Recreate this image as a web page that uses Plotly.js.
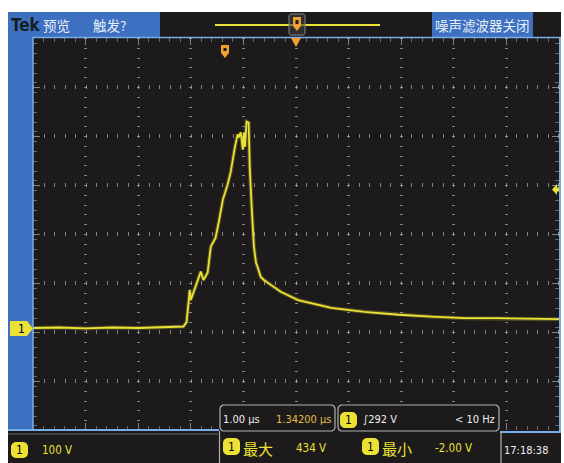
<!DOCTYPE html>
<html><head><meta charset="utf-8">
<script src="https://cdn.plot.ly/plotly-3.0.1.min.js"></script>
<style>html,body{margin:0;padding:0;background:#fff}#chart{width:564px;height:463px}</style>
</head><body><div id="chart"></div>
<script>
// ---- data ----
const timeUs = [0, 0.5, 1.0, 1.5, 2.0, 2.5, 2.86, 2.92, 2.98, 3.00, 3.09, 3.19, 3.24, 3.32, 3.38, 3.47, 3.53, 3.61, 3.70, 3.76, 3.84, 3.89, 3.91, 3.95, 3.99, 4.01, 4.03, 4.06, 4.10, 4.12, 4.16, 4.20, 4.24, 4.27, 4.33, 4.39, 4.52, 4.71, 5.04, 5.67, 6.30, 6.95, 7.58, 8.21, 8.85, 10.0];
const voltsV = [0, 1, -1, 1, 0, 1, 3, 12, 78, 57, 84, 115, 98, 113, 166, 184, 215, 262, 293, 319, 370, 395, 389, 399, 364, 399, 370, 421, 419, 329, 241, 166, 133, 125, 104, 98, 88, 74, 57, 41, 33, 27, 23, 20, 20, 18];
const headerLeft = ["预览", "触发?"];
const headerRight = "噪声滤波器关闭";
const scaleTexts = ["100 V", "1.00 µs", "1.34200 µs", "∫292 V", "< 10 Hz"];
const measLabels = ["最大", "最小"];
const measValues = ["434 V", "-2.00 V"];
const clockText = "17:18:38";

// ---- layout geometry ----
const L=33, R=559, T=38, B=430;
const fx = x => (x-L)/(R-L);
const fy = y => (B-y)/(B-T);
const BLUE='#3d70c0', LBLUE='#78aee8', DARK='#1c1a1a', YEL='#ece236', GOLD='#e6bd45', ORANGE='#f0a030';
const NARROW='"DejaVu Sans Condensed", "Liberation Sans Narrow", Arial, sans-serif';
const CJK='"Noto Sans CJK SC", sans-serif';

const shapes=[];
function rect(x0,y0,x1,y1,fill,line,layer){shapes.push({type:'rect',xref:'paper',yref:'paper',x0:fx(x0),x1:fx(x1),y0:fy(y1),y1:fy(y0),fillcolor:fill,line:line||{width:0},layer:layer||'above'});}
function seg(x0,y0,x1,y1,color,w){shapes.push({type:'line',xref:'paper',yref:'paper',x0:fx(x0),x1:fx(x1),y0:fy(y0),y1:fy(y1),line:{color:color,width:w||1},layer:'above'});}
function path(pts,fill,line){let d=pts.map((p,i)=>(i?'L':'M')+fx(p[0]).toFixed(5)+','+fy(p[1]).toFixed(5)).join(' ')+' Z';shapes.push({type:'path',xref:'paper',yref:'paper',path:d,fillcolor:fill,line:line||{width:0},layer:'above'});}
function rrect(x0,y0,x1,y1,r,fill,line){const pts=[];const n=5;
  const corners=[[x1-r,y0+r,-90],[x1-r,y1-r,0],[x0+r,y1-r,90],[x0+r,y0+r,180]];
  corners.forEach(c=>{for(let i=0;i<=n;i++){const a=(c[2]+90*i/n)*Math.PI/180;pts.push([c[0]+r*Math.cos(a),c[1]+r*Math.sin(a)]);}});
  path(pts,fill,line);}

// outer dark frame
rect(8,12,561,463,DARK,null,'below');
// header
rect(8,12,160,37,BLUE);
rect(432,12,533,37,BLUE);
seg(33,37.5,561,37.5,LBLUE,1.5);
// left strip
rect(8,37,33,430,BLUE);
seg(33,37,33,430,LBLUE,1.5);
// header timeline
seg(215,25,380,25,YEL,2);
rrect(289,14,305,35,2,'rgba(60,60,60,0.6)',{color:'#888',width:1});
path([[293,17],[301,17],[301,26],[297,31],[293,26]],ORANGE);
rect(295.5,20,298.5,24,DARK);
path([[291,38],[301,38],[296,47]],ORANGE);
// trigger position marker
path([[221,45],[229,45],[229,53],[225,58],[221,53]],ORANGE);
rect(223.5,48,226.5,51,DARK);
// ground marker
path([[10,321],[27,321],[33,328.5],[27,336],[10,336]],YEL);
// trigger level arrow
path([[552,189.5],[557,184],[557,187.5],[560,187.5],[560,191.5],[557,191.5],[557,195]],YEL);
// bottom frame
seg(8,430,219,430,LBLUE,2);
seg(8,434,218,434,'#6a6a6a',1);
seg(500,432,561,432,LBLUE,2);
seg(560,37,560,432,LBLUE,2);
rrect(220,405,335,431,4,DARK,{color:'#b0b0b0',width:1.2});
rrect(338,405,499,431,4,DARK,{color:'#b0b0b0',width:1.2});
seg(219.5,431,219.5,463,'#b0b0b0',1.2);
seg(501,432,501,463,'#b0b0b0',1.2);
// badges
rrect(11,442,28,458,5,YEL);
rrect(340,412,357,428,5,YEL);
rrect(223,438,240,455,5,YEL);
rrect(362,438,379,455,5,YEL);

const annotations=[];
function ann(text,x,y,font,xanchor){annotations.push({text:text,xref:'paper',yref:'paper',x:fx(x),y:fy(y),xanchor:xanchor||'left',yanchor:'middle',showarrow:false,font:font});}
ann('Tek',9,25,{family:NARROW,size:17,color:'#16201f',weight:'bold'});
ann(headerLeft[0],41,25,{family:CJK,size:13.5,color:'#e6eef8'});
ann(headerLeft[1],91,25,{family:CJK,size:13.5,color:'#e6eef8'});
ann(headerRight,433,25,{family:CJK,size:13.5,color:'#e6eef8'});
ann('1',21.5,328.5,{family:NARROW,size:12,color:'#000'},'center');
ann('1',19.5,450,{family:NARROW,size:12,color:'#000'},'center');
ann('1',348.5,420,{family:NARROW,size:12,color:'#000'},'center');
ann('1',231.5,446.5,{family:NARROW,size:12,color:'#000'},'center');
ann('1',370.5,446.5,{family:NARROW,size:12,color:'#000'},'center');
ann(scaleTexts[0],40,450,{family:NARROW,size:11.5,color:YEL});
ann(scaleTexts[1],221,419,{family:NARROW,size:11,color:'#f0f0f0'});
ann(scaleTexts[2],334,419,{family:NARROW,size:11,color:GOLD},'right');
ann(scaleTexts[3],361,419,{family:NARROW,size:11,color:'#f0f0f0'});
ann(scaleTexts[4],497,419,{family:NARROW,size:11,color:'#f0f0f0'},'right');
ann(measLabels[0],241,448,{family:CJK,size:15,color:YEL});
ann(measValues[0],294,448,{family:NARROW,size:11.5,color:YEL});
ann(measLabels[1],380,448,{family:CJK,size:15,color:YEL});
ann(measValues[1],433,448,{family:NARROW,size:11.5,color:YEL});
ann(clockText,502,450,{family:NARROW,size:11,color:'#f0f0f0'});

const traces=[
 {x:timeUs,y:voltsV,type:'scatter',mode:'lines',line:{color:'rgba(236,226,54,0.25)',width:4},hoverinfo:'skip'},
 {x:timeUs,y:voltsV,type:'scatter',mode:'lines',line:{color:YEL,width:1.8},hoverinfo:'skip'}
];
const layout={
 width:564,height:463,margin:{l:L,r:564-R,t:T,b:463-B},
 paper_bgcolor:'#ffffff',plot_bgcolor:DARK,showlegend:false,
 xaxis:{range:[0,10],dtick:1,tick0:0,showticklabels:false,zeroline:false,showline:false,
   showgrid:true,gridcolor:'rgba(200,200,200,0.6)',gridwidth:3,griddash:'1px,8.8px',
   ticks:'inside',ticklen:7,tickcolor:'rgba(200,200,200,0.6)',mirror:'allticks',
   minor:{dtick:0.2,ticks:'inside',ticklen:4,tickcolor:'rgba(200,200,200,0.45)',showgrid:false}},
 yaxis:{range:[-208.2,591.8],dtick:100,tick0:-8.2,showticklabels:false,zeroline:false,showline:false,
   showgrid:true,gridcolor:'rgba(200,200,200,0.6)',gridwidth:3.5,griddash:'1px,9.5px',
   ticks:'inside',ticklen:7,tickcolor:'rgba(200,200,200,0.6)',mirror:'allticks',
   minor:{dtick:20,ticks:'inside',ticklen:4,tickcolor:'rgba(200,200,200,0.45)',showgrid:false}},
 shapes:shapes,annotations:annotations
};
Plotly.newPlot('chart',traces,layout,{displayModeBar:false,staticPlot:true});
</script></body></html>
